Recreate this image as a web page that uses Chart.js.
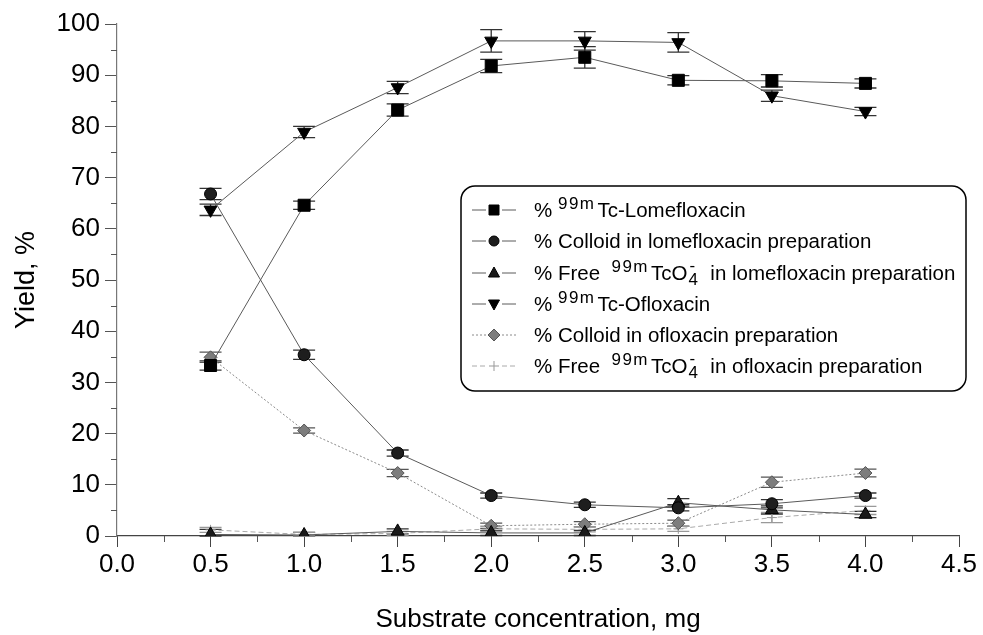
<!DOCTYPE html>
<html>
<head>
<meta charset="utf-8">
<title>Yield vs substrate concentration</title>
<script src="https://cdn.jsdelivr.net/npm/chart.js@4.4.1/dist/chart.umd.min.js"></script>
<style>
    html, body { margin: 0; padding: 0; background: #fff; }
    #wrap { position: relative; width: 983px; height: 635px; }
</style>
</head>
<body>
<div id="wrap"><canvas id="chart" width="983" height="635"></canvas></div>
<script>
// ========== DATOS ==========
const concentrations = [0.5, 1.0, 1.5, 2.0, 2.5, 3.0, 3.5, 4.0];

const lomeLabeled    = [33.3, 64.6, 83.2, 91.8, 93.5, 89.0, 88.9, 88.4];
const lomeLabeledErr = [0.9, 0.8, 1.2, 1.3, 2.1, 0.9, 1.2, 0.9];
const lomeColloid    = [66.8, 35.4, 16.2, 7.9, 6.1, 5.5, 6.3, 7.9];
const lomeColloidErr = [1.1, 0.9, 0.6, 0.5, 0.5, 0.6, 0.8, 0.5];
const lomeFree       = [0.3, 0.2, 0.9, 0.6, 0.6, 6.5, 5.1, 4.2];
const lomeFreeErr    = [1.0, 0.5, 0.5, 0.5, 0.5, 0.8, 0.8, 0.6];
const oflLabeled     = [63.7, 78.9, 87.6, 96.7, 96.7, 96.4, 86.0, 82.9];
const oflLabeledErr  = [1.1, 1.1, 1.2, 2.2, 1.8, 1.9, 1.1, 0.8];
const oflColloid     = [34.9, 20.6, 12.3, 2.0, 2.3, 2.5, 10.5, 12.3];
const oflColloidErr  = [1.0, 0.5, 0.7, 0.5, 0.5, 0.6, 1.0, 0.75];
const oflFree        = [1.2, 0.3, 0.5, 1.4, 1.3, 1.4, 3.6, 5.0];
const oflFreeErr     = [0.5, 0.4, 0.4, 0.5, 0.5, 0.5, 1.0, 0.8];

const xTickValues = [0.0, 0.5, 1.0, 1.5, 2.0, 2.5, 3.0, 3.5, 4.0, 4.5];
const yTickValues = [0, 10, 20, 30, 40, 50, 60, 70, 80, 90, 100];
const xMinorTicks = [0.25, 0.75, 1.25, 1.75, 2.25, 2.75, 3.25, 3.75, 4.25];
const yMinorTicks = [5, 15, 25, 35, 45, 55, 65, 75, 85, 95];

// textos de la leyenda: [tipo, texto]  n=normal, sup=superindice, ion=4 con carga
const legendLabels = [
    [['n', '% '], ['sup', '99m'], ['n', 'Tc-Lomefloxacin']],
    [['n', '% Colloid in lomefloxacin preparation']],
    [['n', '% Free  '], ['sup', '99m'], ['n', 'TcO'], ['ion', '4'], ['n', '  in lomefloxacin preparation']],
    [['n', '% '], ['sup', '99m'], ['n', 'Tc-Ofloxacin']],
    [['n', '% Colloid in ofloxacin preparation']],
    [['n', '% Free  '], ['sup', '99m'], ['n', 'TcO'], ['ion', '4'], ['n', '  in ofloxacin preparation']]
];

const FONT = '"Liberation Sans", Arial, Helvetica, sans-serif';

function toPoints(ys) {
    return concentrations.map((c, i) => ({ x: c, y: ys[i] }));
}

// ========== MARCADORES (leyenda) ==========
function drawMarker(ctx, style, x, y, fill, stroke) {
    ctx.save();
    ctx.fillStyle = fill;
    ctx.strokeStyle = stroke;
    ctx.lineWidth = 1;
    ctx.beginPath();
    switch (style) {
        case 'rect': ctx.rect(x - 5, y - 5, 10, 10); break;
        case 'circle': ctx.arc(x, y, 5, 0, Math.PI * 2); break;
        case 'triUp': ctx.moveTo(x, y - 6); ctx.lineTo(x + 5.5, y + 4); ctx.lineTo(x - 5.5, y + 4); ctx.closePath(); break;
        case 'triDown': ctx.moveTo(x, y + 6); ctx.lineTo(x + 5.5, y - 4); ctx.lineTo(x - 5.5, y - 4); ctx.closePath(); break;
        case 'diamond': ctx.moveTo(x, y - 6); ctx.lineTo(x + 6, y); ctx.lineTo(x, y + 6); ctx.lineTo(x - 6, y); ctx.closePath(); break;
        case 'cross':
            ctx.moveTo(x - 5, y); ctx.lineTo(x + 5, y); ctx.moveTo(x, y - 5); ctx.lineTo(x, y + 5);
            ctx.stroke(); ctx.restore(); return;
    }
    ctx.fill();
    ctx.stroke();
    ctx.restore();
}

function drawRichLabel(ctx, x, y, parts) {
    ctx.fillStyle = '#000';
    ctx.textBaseline = 'alphabetic';
    ctx.textAlign = 'left';
    for (const [kind, text] of parts) {
        if (kind === 'n') {
            ctx.font = '20.5px ' + FONT;
            ctx.letterSpacing = '0px';
            ctx.fillText(text, x, y);
            x += ctx.measureText(text).width;
        } else if (kind === 'sup') {
            ctx.font = '17px ' + FONT;
            ctx.letterSpacing = '1.5px';
            ctx.fillText(text, x, y - 8);
            x += ctx.measureText(text).width + 2;
            ctx.letterSpacing = '0px';
        } else if (kind === 'ion') {
            ctx.font = '17px ' + FONT;
            ctx.letterSpacing = '0px';
            const w = ctx.measureText(text).width;
            ctx.fillText('-', x + 2, y - 9);
            ctx.fillText(text, x + 1, y + 5);
            x += w + 2;
        }
    }
}

// ========== PLUGINS ==========
const errorBarPlugin = {
    id: 'errorBars',
    beforeDatasetsDraw(chart) {
        const { ctx, scales: { x, y } } = chart;
        chart.data.datasets.forEach(ds => {
            if (!ds.errors) return;
            ctx.save();
            ctx.strokeStyle = ds.errorColor;
            ctx.lineWidth = 1.3;
            ds.data.forEach((p, j) => {
                const e = ds.errors[j];
                const px = x.getPixelForValue(p.x);
                const top = y.getPixelForValue(p.y + e);
                const bot = y.getPixelForValue(Math.max(p.y - e, 0));
                ctx.beginPath();
                ctx.moveTo(px, top); ctx.lineTo(px, bot);
                ctx.moveTo(px - 11, top); ctx.lineTo(px + 11, top);
                ctx.moveTo(px - 11, bot); ctx.lineTo(px + 11, bot);
                ctx.stroke();
            });
            ctx.restore();
        });
    }
};

const decorPlugin = {
    id: 'decor',
    afterDraw(chart) {
        const { ctx, chartArea, scales: { x, y } } = chart;
        ctx.save();
        // ticks menores
        ctx.strokeStyle = '#555';
        ctx.lineWidth = 1;
        ctx.beginPath();
        yMinorTicks.forEach(v => {
            const py = Math.round(y.getPixelForValue(v)) + 0.5;
            ctx.moveTo(chartArea.left - 6, py); ctx.lineTo(chartArea.left, py);
        });
        xMinorTicks.forEach(v => {
            const px = Math.round(x.getPixelForValue(v)) + 0.5;
            ctx.moveTo(px, chartArea.bottom); ctx.lineTo(px, chartArea.bottom + 6);
        });
        ctx.stroke();

        // leyenda
        const bx = 461, by = 186, bw = 505, bh = 205, r = 14;
        ctx.beginPath();
        ctx.roundRect(bx, by, bw, bh, r);
        ctx.fillStyle = '#fff';
        ctx.fill();
        ctx.strokeStyle = '#000';
        ctx.lineWidth = 1.5;
        ctx.stroke();

        const rowBase = [217, 248, 280, 311, 342, 373];
        chart.data.datasets.forEach((ds, i) => {
            const cy = rowBase[i] - 7;
            ctx.save();
            ctx.strokeStyle = ds.borderColor;
            ctx.lineWidth = 1;
            ctx.setLineDash(ds.borderDash || []);
            ctx.beginPath();
            ctx.moveTo(472, cy); ctx.lineTo(486, cy);
            ctx.moveTo(502, cy); ctx.lineTo(516, cy);
            ctx.stroke();
            ctx.restore();
            drawMarker(ctx, ds.legendMarker, 494, cy, ds.pointBackgroundColor, ds.pointBorderColor);
            drawRichLabel(ctx, 534, rowBase[i], legendLabels[i]);
        });
        ctx.restore();
    }
};

// ========== GRAFICO ==========
const lineGray = '#5a5a5a';

const datasets = [
    {
        label: '% 99mTc-Lomefloxacin', data: toPoints(lomeLabeled), errors: lomeLabeledErr, errorColor: '#333',
        borderColor: lineGray, borderWidth: 1, pointStyle: 'rect', pointRadius: 8.5,
        pointBackgroundColor: '#000', pointBorderColor: '#000', legendMarker: 'rect'
    },
    {
        label: '% Colloid in lomefloxacin preparation', data: toPoints(lomeColloid), errors: lomeColloidErr, errorColor: '#333',
        borderColor: lineGray, borderWidth: 1, pointStyle: 'circle', pointRadius: 6,
        pointBackgroundColor: '#1e1e1e', pointBorderColor: '#000', legendMarker: 'circle'
    },
    {
        label: '% Free 99mTcO4- in lomefloxacin preparation', data: toPoints(lomeFree), errors: lomeFreeErr, errorColor: '#333',
        borderColor: lineGray, borderWidth: 1, pointStyle: 'triangle', pointRadius: 7.5,
        pointBackgroundColor: '#1a1a1a', pointBorderColor: '#000', legendMarker: 'triUp'
    },
    {
        label: '% 99mTc-Ofloxacin', data: toPoints(oflLabeled), errors: oflLabeledErr, errorColor: '#333',
        borderColor: lineGray, borderWidth: 1, pointStyle: 'triangle', pointRotation: 180, pointRadius: 7.5,
        pointBackgroundColor: '#000', pointBorderColor: '#000', legendMarker: 'triDown'
    },
    {
        label: '% Colloid in ofloxacin preparation', data: toPoints(oflColloid), errors: oflColloidErr, errorColor: '#555',
        borderColor: '#8a8a8a', borderWidth: 1, borderDash: [2, 2], pointStyle: 'rectRot', pointRadius: 6.5,
        pointBackgroundColor: '#7d7d7d', pointBorderColor: '#555', legendMarker: 'diamond'
    },
    {
        label: '% Free 99mTcO4- in ofloxacin preparation', data: toPoints(oflFree), errors: oflFreeErr, errorColor: '#999',
        borderColor: '#aaaaaa', borderWidth: 1, borderDash: [5, 3], pointStyle: 'cross', pointRadius: 5,
        pointBackgroundColor: '#aaa', pointBorderColor: '#999', legendMarker: 'cross'
    }
];

const ctx = document.getElementById('chart').getContext('2d');
new Chart(ctx, {
    type: 'line',
    data: { datasets },
    options: {
        responsive: false,
        animation: false,
        devicePixelRatio: 1,
        layout: { padding: { top: 24, right: 24, left: 0, bottom: 0 } },
        plugins: { legend: { display: false }, tooltip: { enabled: false } },
        scales: {
            x: {
                type: 'linear', min: 0, max: 4.5,
                afterBuildTicks: s => { s.ticks = xTickValues.map(v => ({ value: v })); },
                afterFit: s => { s.height = 99; },
                ticks: { color: '#000', font: { family: FONT, size: 26 }, padding: 2, maxRotation: 0,
                         callback: v => v.toFixed(1) },
                grid: { drawOnChartArea: false, drawTicks: true, tickLength: 11, tickColor: '#444' },
                border: { color: '#444', width: 1.2 },
                title: { display: true, text: 'Substrate concentration, mg', color: '#000',
                         font: { family: FONT, size: 26 }, padding: { top: 0, bottom: 0 } }
            },
            y: {
                type: 'linear', min: 0, max: 100,
                afterBuildTicks: s => { s.ticks = yTickValues.map(v => ({ value: v })); },
                afterFit: s => { s.width = 117; },
                ticks: { color: '#000', font: { family: FONT, size: 26 }, padding: 5 },
                grid: { drawOnChartArea: false, drawTicks: true, tickLength: 12, tickColor: '#555' },
                border: { color: '#777', width: 1.2 },
                title: { display: true, text: 'Yield, %', color: '#000',
                         font: { family: FONT, size: 27 }, padding: { top: 10, bottom: 0 } }
            }
        }
    },
    plugins: [errorBarPlugin, decorPlugin]
});
</script>
</body>
</html>
